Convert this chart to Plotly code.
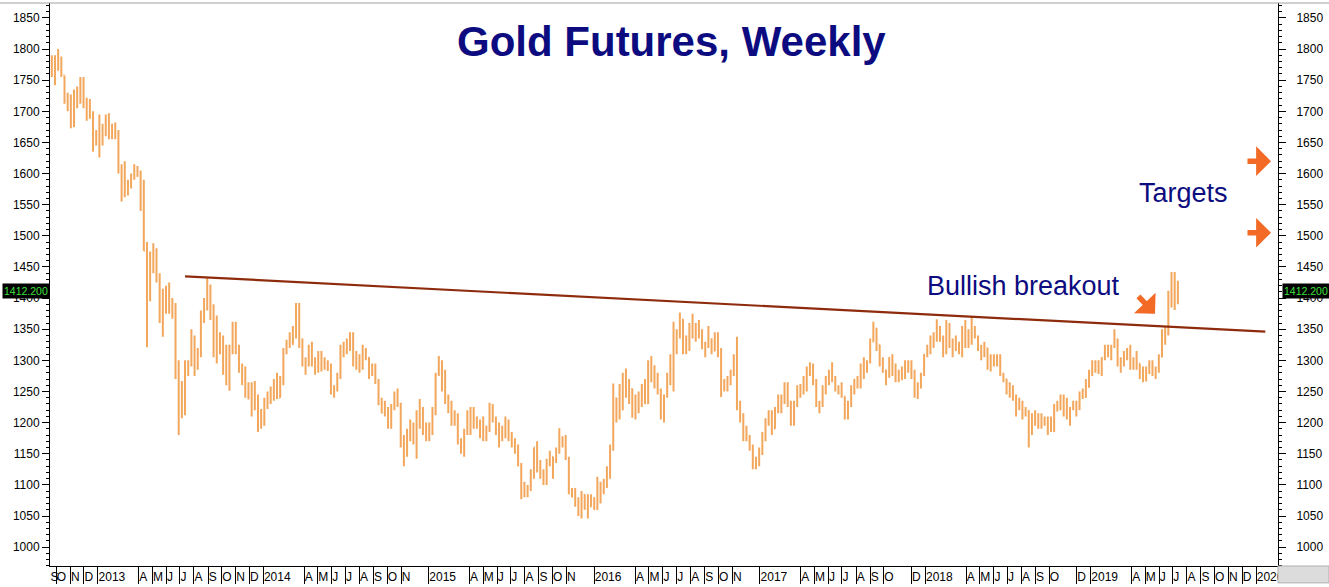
import pandas as pd
import plotly.graph_objects as go

# ---------------- data ----------------
# weekly bars (week ending Friday): (open, high, low, close)
week_ending = pd.date_range("2012-09-21", "2019-07-12", freq="W-FRI")

ohlc_2012 = [
    (1772, 1790, 1755, 1776), (1776, 1790, 1742, 1780), (1780, 1800, 1765, 1781),
    (1781, 1788, 1755, 1758), (1758, 1757, 1712, 1724), (1724, 1730, 1700, 1712),
    (1712, 1727, 1673, 1676), (1676, 1735, 1675, 1731), (1731, 1740, 1705, 1714),
    (1714, 1755, 1712, 1752), (1752, 1755, 1705, 1712), (1712, 1722, 1685, 1705),
    (1705, 1720, 1688, 1696), (1696, 1700, 1635, 1657), (1657, 1670, 1645, 1656),
]
ohlc_2013 = [
    (1656, 1695, 1626, 1656), (1656, 1680, 1645, 1662), (1662, 1695, 1660, 1687),
    (1687, 1697, 1655, 1657), (1657, 1680, 1655, 1667), (1667, 1682, 1655, 1667),
    (1667, 1670, 1600, 1609), (1609, 1615, 1555, 1572), (1572, 1620, 1562, 1576),
    (1576, 1590, 1565, 1578), (1578, 1600, 1576, 1592), (1592, 1615, 1590, 1607),
    (1607, 1612, 1595, 1596), (1596, 1605, 1540, 1581), (1581, 1590, 1476, 1476),
    (1476, 1490, 1321, 1405), (1405, 1475, 1395, 1462), (1462, 1488, 1440, 1470),
    (1470, 1480, 1425, 1435), (1435, 1440, 1360, 1366), (1366, 1415, 1338, 1387),
    (1387, 1420, 1375, 1392), (1392, 1425, 1375, 1384), (1384, 1400, 1367, 1388),
    (1388, 1392, 1270, 1296), (1296, 1300, 1180, 1234), (1234, 1267, 1207, 1223),
    (1223, 1300, 1212, 1278), (1278, 1300, 1275, 1295), (1295, 1350, 1290, 1322),
    (1322, 1340, 1275, 1310), (1310, 1320, 1285, 1315), (1315, 1380, 1305, 1371),
    (1371, 1400, 1360, 1396), (1396, 1434, 1380, 1396), (1396, 1422, 1365, 1386),
    (1386, 1390, 1305, 1308), (1308, 1372, 1295, 1326), (1326, 1345, 1310, 1338),
    (1338, 1340, 1277, 1310), (1310, 1325, 1260, 1272), (1272, 1325, 1251, 1315),
    (1315, 1362, 1310, 1352), (1352, 1362, 1310, 1316), (1316, 1325, 1280, 1287),
    (1287, 1295, 1260, 1288), (1288, 1290, 1240, 1244), (1244, 1265, 1237, 1250),
    (1250, 1265, 1210, 1230), (1230, 1267, 1220, 1235), (1235, 1245, 1185, 1203),
    (1203, 1222, 1190, 1213),
]
ohlc_2014 = [
    (1213, 1240, 1195, 1237), (1237, 1250, 1222, 1248), (1248, 1258, 1230, 1254),
    (1254, 1270, 1235, 1265), (1265, 1280, 1238, 1240), (1240, 1275, 1240, 1264),
    (1264, 1320, 1260, 1318), (1318, 1333, 1310, 1324), (1324, 1345, 1320, 1326),
    (1326, 1355, 1325, 1339), (1339, 1392, 1335, 1379), (1379, 1392, 1320, 1334),
    (1334, 1335, 1290, 1294), (1294, 1305, 1277, 1303), (1303, 1325, 1290, 1318),
    (1318, 1330, 1290, 1294), (1294, 1305, 1277, 1300), (1300, 1315, 1280, 1302),
    (1302, 1315, 1282, 1288), (1288, 1305, 1285, 1293), (1293, 1300, 1283, 1292),
    (1292, 1295, 1245, 1250), (1250, 1260, 1240, 1252), (1252, 1280, 1250, 1274),
    (1274, 1325, 1270, 1316), (1316, 1330, 1305, 1316), (1316, 1335, 1310, 1320),
    (1320, 1345, 1315, 1337), (1337, 1345, 1290, 1310), (1310, 1315, 1285, 1307),
    (1307, 1310, 1280, 1295), (1295, 1325, 1285, 1310), (1310, 1320, 1300, 1304),
    (1304, 1305, 1270, 1280), (1280, 1295, 1275, 1287), (1287, 1295, 1262, 1266),
    (1266, 1270, 1228, 1231), (1231, 1240, 1215, 1216), (1216, 1235, 1210, 1218),
    (1218, 1225, 1190, 1192), (1192, 1230, 1190, 1222), (1222, 1250, 1220, 1238),
    (1238, 1255, 1225, 1230), (1230, 1232, 1160, 1171), (1171, 1180, 1130, 1169),
    (1169, 1190, 1145, 1186), (1186, 1205, 1170, 1197), (1197, 1200, 1165, 1175),
    (1175, 1220, 1142, 1192), (1192, 1238, 1190, 1222), (1222, 1225, 1180, 1196),
    (1196, 1200, 1170, 1195),
]
ohlc_2015 = [
    (1195, 1200, 1170, 1186), (1186, 1225, 1180, 1217), (1217, 1280, 1212, 1277),
    (1277, 1307, 1275, 1294), (1294, 1300, 1250, 1279), (1279, 1285, 1230, 1234),
    (1234, 1245, 1215, 1227), (1227, 1235, 1195, 1205), (1205, 1220, 1195, 1213),
    (1213, 1215, 1165, 1167), (1167, 1175, 1150, 1153), (1153, 1190, 1145, 1183),
    (1183, 1220, 1180, 1199), (1199, 1225, 1180, 1201), (1201, 1225, 1190, 1207),
    (1207, 1210, 1190, 1203), (1203, 1205, 1175, 1177), (1177, 1210, 1170, 1178),
    (1178, 1195, 1170, 1188), (1188, 1232, 1185, 1225), (1225, 1230, 1200, 1205),
    (1205, 1210, 1180, 1190), (1190, 1200, 1160, 1172), (1172, 1195, 1170, 1180),
    (1180, 1210, 1175, 1202), (1202, 1205, 1170, 1173), (1173, 1185, 1160, 1164),
    (1164, 1175, 1150, 1160), (1160, 1165, 1130, 1131), (1131, 1135, 1077, 1085),
    (1085, 1105, 1080, 1094), (1094, 1100, 1080, 1094), (1094, 1125, 1090, 1113),
    (1113, 1160, 1110, 1160), (1160, 1170, 1120, 1133), (1133, 1140, 1110, 1121),
    (1121, 1125, 1100, 1108), (1108, 1142, 1100, 1138), (1138, 1155, 1130, 1145),
    (1145, 1145, 1110, 1137), (1137, 1160, 1135, 1156), (1156, 1191, 1150, 1176),
    (1176, 1178, 1160, 1162), (1162, 1180, 1140, 1142), (1142, 1145, 1085, 1088),
    (1088, 1095, 1080, 1081), (1081, 1095, 1065, 1076), (1076, 1080, 1050, 1056),
    (1056, 1090, 1046, 1084), (1084, 1085, 1060, 1075), (1075, 1085, 1046, 1065),
    (1065, 1085, 1065, 1075),
]
ohlc_2016 = [
    (1075, 1080, 1060, 1061), (1061, 1113, 1060, 1097), (1097, 1105, 1070, 1090),
    (1090, 1110, 1085, 1098), (1098, 1130, 1095, 1116), (1116, 1165, 1110, 1158),
    (1158, 1263, 1155, 1239), (1239, 1240, 1200, 1230), (1230, 1262, 1205, 1221),
    (1221, 1280, 1220, 1271), (1271, 1287, 1240, 1258), (1258, 1270, 1230, 1254),
    (1254, 1255, 1208, 1220), (1220, 1245, 1205, 1222), (1222, 1250, 1215, 1240),
    (1240, 1262, 1225, 1235), (1235, 1270, 1230, 1231), (1231, 1300, 1230, 1295),
    (1295, 1307, 1265, 1290), (1290, 1292, 1255, 1273), (1273, 1280, 1245, 1252),
    (1252, 1255, 1205, 1212), (1212, 1245, 1200, 1243), (1243, 1280, 1240, 1275),
    (1275, 1310, 1260, 1298), (1298, 1362, 1250, 1322), (1322, 1350, 1310, 1340),
    (1340, 1377, 1335, 1366), (1366, 1366, 1310, 1327), (1327, 1340, 1310, 1323),
    (1323, 1360, 1315, 1358), (1358, 1375, 1335, 1344), (1344, 1360, 1330, 1343),
    (1343, 1365, 1335, 1345), (1345, 1350, 1318, 1325), (1325, 1330, 1305, 1327),
    (1327, 1355, 1320, 1334), (1334, 1335, 1310, 1315), (1315, 1345, 1315, 1341),
    (1341, 1345, 1305, 1317), (1317, 1320, 1241, 1257), (1257, 1270, 1250, 1254),
    (1254, 1275, 1250, 1267), (1267, 1285, 1260, 1276), (1276, 1310, 1275, 1304),
    (1304, 1338, 1220, 1225), (1225, 1235, 1200, 1208), (1208, 1215, 1170, 1178),
    (1178, 1195, 1170, 1177), (1177, 1180, 1155, 1162), (1162, 1165, 1125, 1133),
    (1133, 1145, 1125, 1133), (1133, 1160, 1130, 1152),
]
ohlc_2017 = [
    (1152, 1185, 1148, 1173), (1173, 1207, 1170, 1197), (1197, 1220, 1195, 1210),
    (1210, 1220, 1180, 1190), (1190, 1225, 1190, 1220), (1220, 1245, 1215, 1235),
    (1235, 1245, 1215, 1238), (1238, 1265, 1230, 1257), (1257, 1265, 1225, 1234),
    (1234, 1235, 1195, 1201), (1201, 1235, 1195, 1230), (1230, 1260, 1225, 1249),
    (1249, 1262, 1240, 1251), (1251, 1275, 1245, 1257), (1257, 1290, 1250, 1288),
    (1288, 1297, 1275, 1289), (1289, 1295, 1260, 1268), (1268, 1270, 1225, 1228),
    (1228, 1235, 1215, 1228), (1228, 1260, 1225, 1256), (1256, 1275, 1245, 1271),
    (1271, 1285, 1260, 1280), (1280, 1297, 1265, 1271), (1271, 1275, 1250, 1256),
    (1256, 1260, 1245, 1257), (1257, 1265, 1240, 1242), (1242, 1242, 1205, 1213),
    (1213, 1235, 1205, 1229), (1229, 1260, 1225, 1255), (1255, 1270, 1245, 1269),
    (1269, 1275, 1255, 1258), (1258, 1295, 1255, 1290), (1290, 1305, 1270, 1291),
    (1291, 1300, 1280, 1297), (1297, 1335, 1295, 1330), (1330, 1362, 1330, 1351),
    (1351, 1352, 1315, 1325), (1325, 1325, 1290, 1297), (1297, 1305, 1280, 1284),
    (1284, 1285, 1260, 1275), (1275, 1305, 1272, 1304), (1304, 1310, 1275, 1280),
    (1280, 1295, 1265, 1272), (1272, 1285, 1265, 1270), (1270, 1290, 1268, 1274),
    (1274, 1300, 1270, 1296), (1296, 1300, 1280, 1288), (1288, 1300, 1270, 1280),
    (1280, 1285, 1240, 1248), (1248, 1265, 1238, 1257), (1257, 1280, 1255, 1278),
    (1278, 1310, 1275, 1309),
]
ohlc_2018 = [
    (1309, 1325, 1305, 1322), (1322, 1340, 1310, 1338), (1338, 1345, 1320, 1332),
    (1332, 1366, 1330, 1350), (1350, 1355, 1330, 1333), (1333, 1340, 1305, 1315),
    (1315, 1365, 1310, 1353), (1353, 1360, 1320, 1330), (1330, 1335, 1305, 1323),
    (1323, 1340, 1315, 1324), (1324, 1330, 1310, 1313), (1313, 1355, 1305, 1347),
    (1347, 1365, 1320, 1327), (1327, 1350, 1320, 1336), (1336, 1370, 1325, 1347),
    (1347, 1355, 1335, 1338), (1338, 1340, 1315, 1323), (1323, 1325, 1300, 1315),
    (1315, 1330, 1305, 1320), (1320, 1320, 1285, 1291), (1291, 1310, 1282, 1303),
    (1303, 1310, 1290, 1294), (1294, 1310, 1290, 1302), (1302, 1310, 1275, 1278),
    (1278, 1280, 1265, 1270), (1270, 1270, 1245, 1254), (1254, 1265, 1240, 1256),
    (1256, 1260, 1235, 1241), (1241, 1245, 1210, 1231), (1231, 1240, 1220, 1223),
    (1223, 1235, 1205, 1223), (1223, 1225, 1210, 1219), (1219, 1220, 1160, 1184),
    (1184, 1215, 1180, 1213), (1213, 1220, 1195, 1206), (1206, 1215, 1190, 1200),
    (1200, 1215, 1190, 1201), (1201, 1210, 1195, 1207), (1207, 1210, 1180, 1196),
    (1196, 1210, 1185, 1207), (1207, 1230, 1185, 1222), (1222, 1235, 1218, 1229),
    (1229, 1245, 1220, 1235), (1235, 1245, 1210, 1233), (1233, 1240, 1205, 1210),
    (1210, 1225, 1195, 1222), (1222, 1235, 1220, 1223), (1223, 1235, 1210, 1222),
    (1222, 1250, 1220, 1248), (1248, 1255, 1238, 1241), (1241, 1270, 1240, 1258),
    (1258, 1285, 1256, 1283),
]
ohlc_2019 = [
    (1283, 1300, 1275, 1286), (1286, 1300, 1280, 1290), (1290, 1300, 1278, 1282),
    (1282, 1305, 1275, 1304), (1304, 1325, 1300, 1318), (1318, 1325, 1305, 1318),
    (1318, 1325, 1300, 1322), (1322, 1350, 1320, 1332), (1332, 1335, 1290, 1299),
    (1299, 1305, 1280, 1298), (1298, 1315, 1290, 1302), (1302, 1320, 1300, 1314),
    (1314, 1325, 1285, 1298), (1298, 1305, 1285, 1295), (1295, 1315, 1285, 1295),
    (1295, 1295, 1270, 1276), (1276, 1290, 1265, 1288), (1288, 1290, 1266, 1281),
    (1281, 1300, 1278, 1287), (1287, 1300, 1275, 1277), (1277, 1290, 1270, 1285),
    (1285, 1310, 1280, 1306), (1306, 1350, 1305, 1345), (1345, 1355, 1325, 1344),
    (1344, 1412, 1340, 1400), (1400, 1442, 1385, 1413), (1413, 1442, 1381, 1400),
    (1400, 1428, 1390, 1412.2),
]

# resistance trend line (start / end)
TREND_DATES = ["2013-07-12", "2020-01-21"]
TREND_VALUES = [1435, 1346]

# target levels (arrows on the right)
TARGET_LEVELS = [1620, 1505]
LAST_PRICE = 1412.2

# x-axis month labels (first of month) as shown on the chart
X_TICK_DATES = [
    "2012-09-17", "2012-10-01", "2012-11-01", "2012-12-01",
    "2013-01-01", "2013-04-01", "2013-05-01", "2013-06-01", "2013-07-01", "2013-08-01",
    "2013-09-01", "2013-10-01", "2013-11-01", "2013-12-01",
    "2014-01-01", "2014-04-01", "2014-05-01", "2014-06-01", "2014-07-01", "2014-08-01",
    "2014-09-01", "2014-10-01", "2014-11-01",
    "2015-01-01", "2015-04-01", "2015-05-01", "2015-06-01", "2015-07-01", "2015-08-01",
    "2015-09-01", "2015-10-01", "2015-11-01",
    "2016-01-01", "2016-04-01", "2016-05-01", "2016-06-01", "2016-07-01", "2016-08-01",
    "2016-09-01", "2016-10-01", "2016-11-01",
    "2017-01-01", "2017-04-01", "2017-05-01", "2017-06-01", "2017-07-01", "2017-08-01",
    "2017-09-01", "2017-10-01", "2017-12-01",
    "2018-01-01", "2018-04-01", "2018-05-01", "2018-06-01", "2018-07-01", "2018-08-01",
    "2018-09-01", "2018-10-01", "2018-12-01",
    "2019-01-01", "2019-04-01", "2019-05-01", "2019-06-01", "2019-07-01", "2019-08-01",
    "2019-09-01", "2019-10-01", "2019-11-01", "2019-12-01",
    "2020-01-01",
]
X_TICK_TEXT = [
    "S", "O", "N", "D",
    "2013", "A", "M", "J", "J", "A", "S", "O", "N", "D",
    "2014", "A", "M", "J", "J", "A", "S", "O", "N",
    "2015", "A", "M", "J", "J", "A", "S", "O", "N",
    "2016", "A", "M", "J", "J", "A", "S", "O", "N",
    "2017", "A", "M", "J", "J", "A", "S", "O", "D",
    "2018", "A", "M", "J", "J", "A", "S", "O", "D",
    "2019", "A", "M", "J", "J", "A", "S", "O", "N", "D",
    "2020",
]

X_RANGE = ["2012-09-17", "2020-02-18"]
Y_RANGE = [969.7, 1874]

# ---------------- styling ----------------
BAR_COLOR = "#F2A75C"
TREND_COLOR = "#8E2B0C"
NAVY = "#0C0C80"
ARROW_COLOR = "#F26A25"
FONT = "Liberation Sans, Arial, sans-serif"

bars = ohlc_2012 + ohlc_2013 + ohlc_2014 + ohlc_2015 + ohlc_2016 + ohlc_2017 + ohlc_2018 + ohlc_2019
n = min(len(bars), len(week_ending))
bars = bars[:n]
dates = week_ending[:n]
opens = [b[0] for b in bars]
highs = [b[1] for b in bars]
lows = [b[2] for b in bars]
closes = [b[3] for b in bars]

sep_dates = [(pd.Timestamp(d) - pd.Timedelta(hours=6)).strftime("%Y-%m-%d %H:%M") for d in X_TICK_DATES[1:]]

fig = go.Figure()
fig.add_trace(go.Ohlc(
    x=dates, open=opens, high=highs, low=lows, close=closes,
    increasing=dict(line=dict(color=BAR_COLOR, width=2)),
    decreasing=dict(line=dict(color=BAR_COLOR, width=2)),
    tickwidth=0.3, showlegend=False, hoverinfo="skip",
))
fig.add_trace(go.Scatter(
    x=TREND_DATES, y=TREND_VALUES, mode="lines", yaxis="y2",
    line=dict(color=TREND_COLOR, width=2.2), showlegend=False, hoverinfo="skip",
))

yaxis_common = dict(
    range=Y_RANGE, tick0=1000, dtick=50, ticks="outside", ticklen=7, tickwidth=1,
    tickcolor="#000", showline=True, linecolor="#000", linewidth=1,
    showgrid=False, zeroline=False, tickfont=dict(size=12, color="#000", family=FONT),
    minor=dict(dtick=10, tick0=1000, ticks="outside", ticklen=3, tickcolor="#000", tickwidth=1),
    fixedrange=True,
)

fig.update_layout(
    width=1329, height=587,
    margin=dict(l=50, r=51, t=3, b=17),
    paper_bgcolor="white", plot_bgcolor="white",
    showlegend=False, hovermode=False,
    font=dict(family=FONT, size=12, color="#000"),
    xaxis=dict(
        type="date", range=X_RANGE, rangeslider=dict(visible=False),
        showgrid=False, zeroline=False, showline=True, linecolor="#000", linewidth=1,
        tickmode="array", tickvals=X_TICK_DATES, ticktext=X_TICK_TEXT,
        ticks="", ticklabelposition="outside right", tickangle=0,
        tickfont=dict(size=12, color="#000", family=FONT),
        minor=dict(tickmode="array", tickvals=sep_dates, ticks="outside",
                   ticklen=17, tickcolor="#000", tickwidth=1),
        fixedrange=True,
    ),
    yaxis=dict(**yaxis_common, side="left"),
    yaxis2=dict(**yaxis_common, side="right", overlaying="y", anchor="x", ticklabelstandoff=8),
)

# top border and grey corner box
fig.add_shape(type="line", xref="paper", yref="paper", x0=-0.05, x1=1.05, y0=1, y1=1,
              line=dict(color="#A0A0A0", width=1), layer="above")
fig.add_shape(type="rect", xref="paper", yref="paper", x0=1, x1=1 + 51 / 1228,
              y0=-17 / 567, y1=0, fillcolor="#DCDCDC", line=dict(color="#B0B0B0", width=1),
              layer="above")

# title and labels
fig.add_annotation(xref="paper", yref="paper", x=0.5065, y=0.931, text="<b>Gold Futures, Weekly</b>",
                   showarrow=False, font=dict(size=42, color=NAVY, family=FONT),
                   xanchor="center", yanchor="middle")
fig.add_annotation(xref="paper", yref="paper", x=(925 - 50) / 1228, y=(570 - 288) / 567,
                   text="Bullish breakout", showarrow=False,
                   font=dict(size=27, color=NAVY, family=FONT), xanchor="left", yanchor="middle")
fig.add_annotation(xref="paper", yref="paper", x=(1137 - 50) / 1228, y=(570 - 194) / 567,
                   text="Targets", showarrow=False,
                   font=dict(size=27, color=NAVY, family=FONT), xanchor="left", yanchor="middle")

# arrows
for lvl in TARGET_LEVELS:
    fig.add_annotation(xref="paper", yref="y", x=(1271 - 50) / 1228, y=lvl, text="",
                       showarrow=True, ax=-25, ay=0, arrowhead=1, arrowsize=0.9,
                       arrowwidth=5.5, arrowcolor=ARROW_COLOR)
fig.add_annotation(xref="paper", yref="paper", x=(1155 - 50) / 1228, y=(570 - 316) / 567, text="",
                   showarrow=True, ax=-18, ay=-19, arrowhead=1, arrowsize=0.9,
                   arrowwidth=5.5, arrowcolor=ARROW_COLOR)

# last price tags
for xpos, anchor, shift in [(0, "right", 0), (1, "left", 4)]:
    fig.add_annotation(xref="paper", yref="y", x=xpos, y=LAST_PRICE, text="1412.200",
                       showarrow=False, xanchor=anchor, xshift=shift, yanchor="middle",
                       font=dict(size=10.5, color="#3BE23B", family=FONT),
                       bgcolor="#000000", borderpad=1)

fig.write_html(
    "out.html",
    config={"displayModeBar": False},
    post_script="document.body.style.margin='0';document.body.style.overflow='hidden';",
)
